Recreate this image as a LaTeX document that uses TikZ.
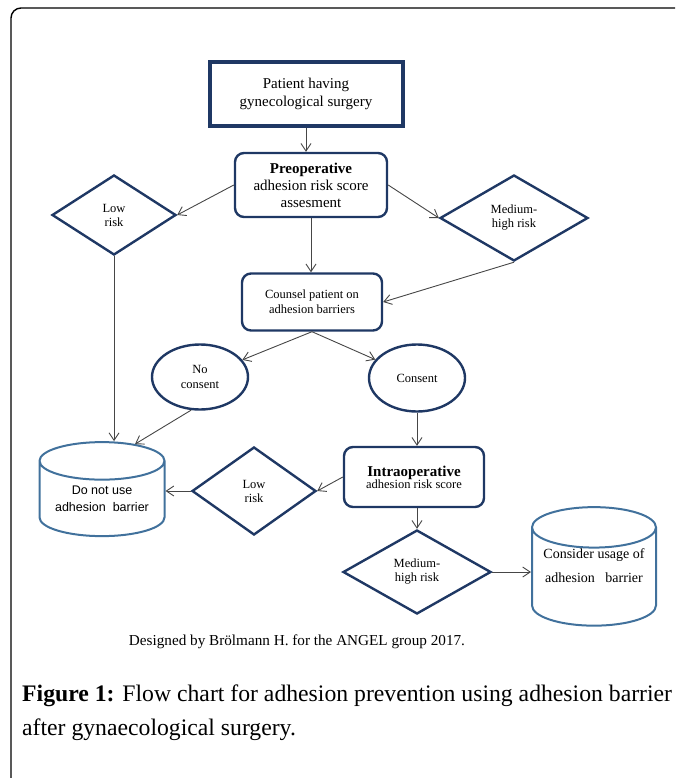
\documentclass[tikz,border=0pt]{standalone}
\usepackage{fontspec}
\setmainfont{Liberation Serif}
\newfontfamily\arialfont{Liberation Sans}
\usetikzlibrary{shapes.geometric,arrows.meta,calc}
\definecolor{navy}{RGB}{31,56,100}
\definecolor{cylblue}{RGB}{65,113,156}
\definecolor{arrowgray}{RGB}{70,70,70}

\begin{document}
\begin{tikzpicture}[x=1pt,y=-1pt,>={Straight Barb[length=7.5pt,width=10pt]},
  box node/.style={rectangle,rounded corners=9pt,draw=navy,line width=2.4pt,align=center,inner sep=2pt},
  risk node/.style={diamond,draw=navy,line width=2.4pt,align=center,inner sep=0pt,font=\fontsize{12.5}{14}\selectfont},
  choice node/.style={ellipse,draw=navy,line width=2.4pt,align=center,inner sep=0pt,font=\fontsize{12.5}{15}\selectfont},
  store node/.style={cylinder,shape border rotate=90,aspect=0.4,draw=cylblue,line width=2pt,align=center,inner sep=0pt},
  arrow line/.style={->,line width=0.9pt,color=arrowgray}]

  \useasboundingbox (0,0) rectangle (675,778);
  \draw[line width=1.4pt,rounded corners=10pt] (11,778) -- (11,8) -- (675,8);

  \node[rectangle,draw=navy,line width=4pt,minimum width=193pt,minimum height=64pt,align=center,font=\fontsize{15}{18}\selectfont] (patient) at (306,94) {Patient having\\gynecological surgery};
  \node[box node,minimum width=152pt,minimum height=64pt,font=\fontsize{15}{17}\selectfont] (preop) at (311,185) {\textbf{Preoperative}\\adhesion risk score\\assesment};
  \node[risk node,minimum width=124pt,minimum height=80pt] (low1) at (114,215) {Low\\risk};
  \node[risk node,minimum width=148pt,minimum height=86pt] (med1) at (514,218) {Medium-\\high risk};
  \node[box node,minimum width=140pt,minimum height=57pt,font=\fontsize{12.5}{15}\selectfont] (counsel) at (312,302) {Counsel patient on\\adhesion barriers};
  \node[choice node,minimum width=96pt,minimum height=65pt] (nocon) at (200,377) {No\\consent};
  \node[choice node,minimum width=96pt,minimum height=67pt] (con) at (417,378) {Consent};
  \node[store node,minimum width=125pt,minimum height=94pt,font=\arialfont\fontsize{12.5}{17}\selectfont] (donot) at (102,499) {Do not use\\adhesion\ \ barrier};
  \node[box node,minimum width=140pt,minimum height=60pt] (intra) at (414,477) {{\fontsize{15}{18}\selectfont\textbf{Intraoperative}}\\{\fontsize{12.5}{15}\selectfont adhesion risk score}};
  \node[risk node,minimum width=124pt,minimum height=88pt] (low2) at (254,491) {Low\\risk};
  \node[risk node,minimum width=148pt,minimum height=84pt] (med2) at (417,572) {Medium-\\high risk};
  \node[store node,minimum width=124pt,minimum height=116pt,text depth=23pt,font=\fontsize{14}{24}\selectfont] (consider) at (594,577) {Consider usage of\\adhesion\ \ \ barrier};

  \node[font=\fontsize{15.2}{17}\selectfont] (credit) at (297,642) {Designed by Brölmann H. for the ANGEL group 2017.};
  \node[anchor=base west,inner sep=0pt,font=\fontsize{23.7}{28}\selectfont] (cap1) at (22,701) {\textbf{Figure 1:} Flow chart for adhesion prevention using adhesion barrier};
  \node[anchor=base west,inner sep=0pt,font=\fontsize{23.7}{28}\selectfont] (cap2) at (22,735) {after gynaecological surgery.};

  \path[] (patient.south) [arrow line] edge (patient.south |- preop.north);
  \path[] (preop.west) [arrow line] edge (low1.east);
  \path[] (preop.east) [arrow line] edge (med1.west);
  \path[] (preop.south) [arrow line] edge (preop.south |- counsel.north);
  \path[] (med1.south) [arrow line] edge (counsel.east);
  \path[] (counsel.south) [arrow line] edge (nocon);
  \path[] (counsel.south) [arrow line] edge (con);
  \path[] (low1.south) [arrow line] edge (low1.south |- donot.north);
  \path[] (nocon.255) [arrow line] edge ($(donot.north)+(33,3)$);
  \path[] (con.south) [arrow line] edge (con.south |- intra.north);
  \path[] (intra.west) [arrow line] edge (low2.east);
  \path[] (low2.west) [arrow line] edge (low2.west -| donot.east);
  \path[] (med2.north |- intra.south) [arrow line] edge (med2.north);
  \path[] (med2.east) [arrow line] edge (med2.east -| consider.west);
\end{tikzpicture}
\end{document}
